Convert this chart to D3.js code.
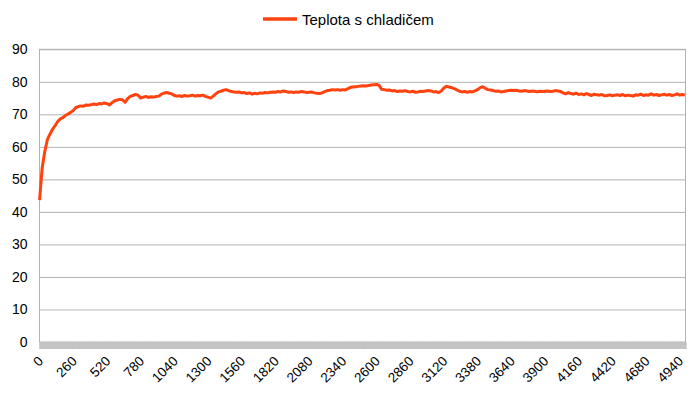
<!DOCTYPE html>
<html>
<head>
<meta charset="utf-8">
<script src="https://cdn.jsdelivr.net/npm/d3@7/dist/d3.min.js"></script>
<style>
  body { margin: 0; background: #fff; }
  svg { display: block; font-family: "Liberation Sans", Arial, sans-serif; }
</style>
</head>
<body>
<svg width="698" height="396"></svg>
<script>
// series name
var seriesName = "Teplota s chladičem";

// number of measured categories on the x axis
var categoryCount = 4985;

// one reading every 20 categories
var sampleStep = 20;
var temps = [
  43.6, 53.5, 58.5, 62.2, 63.9, 65.4, 66.5, 67.8, 68.6, 69.0,
  69.7, 70.1, 70.6, 71.2, 72.1, 72.4, 72.6, 72.5, 72.9, 72.8,
  73.0, 73.2, 73.0, 73.3, 73.2, 73.5, 73.3, 72.9, 73.6, 74.2,
  74.4, 74.6, 74.5, 73.7, 74.8, 75.5, 75.8, 76.1, 75.9, 75.0,
  75.3, 75.5, 75.2, 75.4, 75.3, 75.5, 75.6, 76.2, 76.5, 76.7,
  76.5, 76.3, 75.8, 75.6, 75.7, 75.5, 75.8, 75.6, 75.7, 75.9,
  75.6, 75.8, 75.7, 75.9, 75.5, 75.3, 75.0, 75.6, 76.3, 76.9,
  77.1, 77.4, 77.6, 77.3, 77.0, 76.9, 76.8, 76.9, 76.6, 76.7,
  76.4, 76.6, 76.2, 76.5, 76.3, 76.6, 76.5, 76.7, 76.6, 76.8,
  76.9, 76.8, 77.0, 76.9, 77.2, 77.0, 76.8, 76.9, 76.7, 76.9,
  76.8, 77.0, 76.9, 76.7, 76.8, 76.9, 76.6, 76.5, 76.4, 76.6,
  77.0, 77.3, 77.4, 77.6, 77.5, 77.6, 77.4, 77.6, 77.5, 77.9,
  78.3, 78.4, 78.5, 78.6, 78.7, 78.8, 78.7, 78.9, 79.0, 79.1,
  79.2, 78.9, 77.7, 77.6, 77.4, 77.5, 77.2, 77.3, 77.0, 77.2,
  77.1, 77.3, 77.0, 76.9, 77.1, 76.8, 76.9, 77.1, 77.0, 77.2,
  77.3, 77.2, 76.9, 77.0, 76.7, 77.2, 78.1, 78.6, 78.4, 78.2,
  77.9, 77.5, 77.1, 76.9, 77.0, 76.8, 77.0, 76.9, 77.2, 77.6,
  78.2, 78.5, 78.0, 77.6, 77.5, 77.3, 77.1, 77.2, 76.9, 77.0,
  77.2, 77.3, 77.4, 77.3, 77.4, 77.2, 77.1, 77.3, 77.2, 77.0,
  77.2, 77.1, 76.9, 77.1, 77.0, 77.1, 77.2, 77.0, 77.1, 77.3,
  77.2, 77.0, 76.6, 76.3, 76.7, 76.4, 76.2, 76.5, 76.1, 76.3,
  76.0, 76.4, 76.1, 75.8, 76.2, 76.0, 75.9, 76.1, 75.7, 75.8,
  76.0, 75.7, 75.9, 76.0, 75.8, 76.1, 75.7, 75.9, 75.8, 75.6,
  76.0, 75.9, 76.2, 75.8, 76.0, 75.9, 76.3, 75.9, 76.1, 75.8,
  76.0, 76.2, 75.9, 76.1, 75.8, 76.0, 76.3, 75.9, 76.1, 75.9
];

// labelled categories
var xTickLabels = [0, 260, 520, 780, 1040, 1300, 1560, 1820, 2080, 2340, 2600,
                   2860, 3120, 3380, 3640, 3900, 4160, 4420, 4680, 4940];
var yTicks = [0, 10, 20, 30, 40, 50, 60, 70, 80, 90];

var svg = d3.select("svg"),
    plotLeft = 39.5, plotRight = 685.5, plotTop = 49.3, plotBottom = 342;

var x = d3.scaleBand()
    .domain(d3.range(categoryCount))
    .range([plotLeft, plotRight]);

var y = d3.scaleLinear()
    .domain([0, 90])
    .range([plotBottom, plotTop]);

var lineColor = "#ff420e",
    gridColor = "#b3b3b3";

// grid lines
svg.append("g")
    .attr("transform", "translate(" + plotLeft + ",0)")
    .call(d3.axisLeft(y).tickValues(yTicks).tickSize(-(plotRight - plotLeft)).tickFormat(""))
    .call(function(g) {
        g.select(".domain").remove();
        g.selectAll("line").attr("stroke", gridColor);
    });

// plot frame
svg.append("rect")
    .attr("x", plotLeft)
    .attr("y", plotTop)
    .attr("width", plotRight - plotLeft)
    .attr("height", plotBottom - plotTop)
    .attr("fill", "none")
    .attr("stroke", gridColor);

// y labels
svg.append("g")
    .attr("transform", "translate(" + plotLeft + ",0)")
    .call(d3.axisLeft(y).tickValues(yTicks).tickSize(0).tickPadding(12))
    .call(function(g) {
        g.select(".domain").remove();
        g.selectAll("text")
            .attr("fill", "#000")
            .style("font-size", "14px")
            .style("font-family", "Liberation Sans, Arial, sans-serif");
    });

// dense category ticks
svg.append("g")
    .attr("transform", "translate(0," + plotBottom + ")")
    .call(d3.axisBottom(x).tickValues(x.domain()).tickSize(7).tickFormat(""))
    .call(function(g) {
        g.select(".domain").attr("stroke", gridColor);
        g.selectAll("line").attr("stroke", "#c4c4c4").attr("stroke-width", 0.5);
    });

// category labels
svg.append("g")
    .attr("transform", "translate(0," + (plotBottom + 7) + ")")
    .call(d3.axisBottom(x).tickValues(xTickLabels).tickSize(0).tickPadding(0))
    .call(function(g) {
        g.select(".domain").remove();
        g.selectAll("text")
            .attr("fill", "#000")
            .attr("text-anchor", "end")
            .attr("dy", null)
            .attr("y", 0)
            .attr("transform", "translate(4,13) rotate(-45)")
            .style("font-size", "13.5px")
            .style("font-family", "Liberation Sans, Arial, sans-serif");
    });

// the series
var line = d3.line()
    .x(function(d, i) { return x(i * sampleStep) + x.bandwidth() / 2; })
    .y(function(d) { return y(d); });

svg.append("path")
    .datum(temps)
    .attr("fill", "none")
    .attr("stroke", lineColor)
    .attr("stroke-width", 3)
    .attr("stroke-linejoin", "round")
    .attr("d", line);

// legend
var legend = svg.append("g");
legend.append("line")
    .attr("x1", 263).attr("x2", 297)
    .attr("y1", 19).attr("y2", 19)
    .attr("stroke", lineColor)
    .attr("stroke-width", 3.5);
legend.append("text")
    .attr("x", 302)
    .attr("y", 24.5)
    .style("font-size", "15px")
    .text(seriesName);
</script>
</body>
</html>
